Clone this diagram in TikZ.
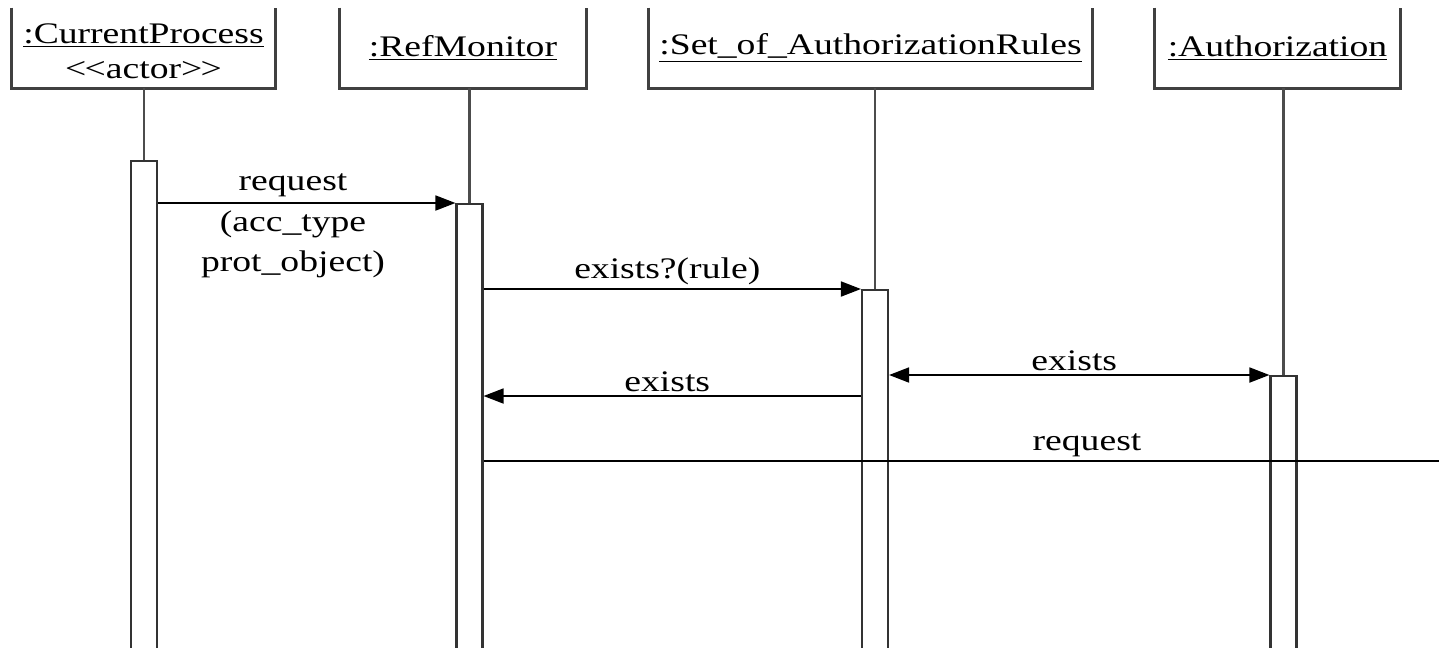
\documentclass[tikz,border=0pt]{standalone}
\usepackage{fontspec}
\setmainfont{Liberation Serif}[FakeStretch=1.26]
\usetikzlibrary{arrows.meta}

\begin{document}
\begin{tikzpicture}[
  x=0.02cm, y=-0.02cm,
  every node/.style={font=\fontsize{17}{23}\selectfont, inner sep=0pt},
  head/.style={minimum height=1.6cm, align=center},
  frame/.style={draw=black!75, line width=1.4pt},
  life/.style={draw=black!70, line width=1.3pt},
  act/.style={draw=black!80, line width=1.2pt, fill=white, anchor=north,
              minimum width=0.52cm, minimum height=12cm},
  msg/.style={draw=black, line width=1pt, -{Triangle[length=0.4cm, width=0.3cm]}},
  lbl/.style={above=2pt}
]
\useasboundingbox (0,0) rectangle (1439,647);
\clip (0,0) rectangle (1439,647);

% object heads (open at the top)
\node[head, minimum width=5.26cm] (boxCP) at (143.5,48) {};
\node[align=center] (tCP) at (143.5,51)
  {\underline{:CurrentProcess}\\[-3pt]{<}\kern-1pt{<}actor{>}\kern-1pt{>}};
\node[head, minimum width=4.92cm] (boxRM) at (463,48) {\underline{:RefMonitor}};
\node[head, minimum width=8.86cm] (boxSR) at (870.5,48) {\underline{:Set\_of\_AuthorizationRules}};
\node[head, minimum width=4.90cm] (boxAu) at (1277.5,48) {\underline{:Authorization}};
\foreach \b in {boxCP,boxRM,boxSR,boxAu}
  \draw[frame] (\b.north west) -- (\b.south west) -- (\b.south east) -- (\b.north east);

% activations
\node[act] (actCP) at (144,160) {};
\node[act] (actRM) at (469.5,203) {};
\node[act] (actSR) at (875,289) {};
\node[act] (actAu) at (1283.5,375) {};

% lifelines
\draw[life] (actCP.north |- boxCP.south) -- (actCP.north);
\draw[life] (actRM.north |- boxRM.south) -- (actRM.north);
\draw[life] (actSR.north |- boxSR.south) -- (actSR.north);
\draw[life] (actAu.north |- boxAu.south) -- (actAu.north);

\coordinate (ret) at (0,396);
\coordinate (req) at (1460,461);

% messages
\draw[msg] (actCP.east |- actRM.north) -- (actRM.north west);
\node[align=center] (m1) at (293,226) {request\\(acc\_type\\prot\_object)};
\draw[msg] (actRM.east |- actSR.north) -- (actSR.north west)
  node[lbl, midway, xshift=-0.1cm] (m2) {exists?(rule)};
\draw[msg] (actSR.west |- ret) -- (actRM.east |- ret)
  node[lbl, midway, xshift=-0.1cm] (m3) {exists};
\draw[msg, arrows={Triangle[length=0.4cm, width=0.3cm]-Triangle[length=0.4cm, width=0.3cm]}]
  (actSR.east |- actAu.north) -- (actAu.north west)
  node[lbl, midway, xshift=-0.1cm] (m4) {exists};
\draw[draw=black, line width=1pt] (actRM.east |- req) -- (req);
\node[lbl] (m5) at (1087,461) {request};
\end{tikzpicture}
\end{document}
